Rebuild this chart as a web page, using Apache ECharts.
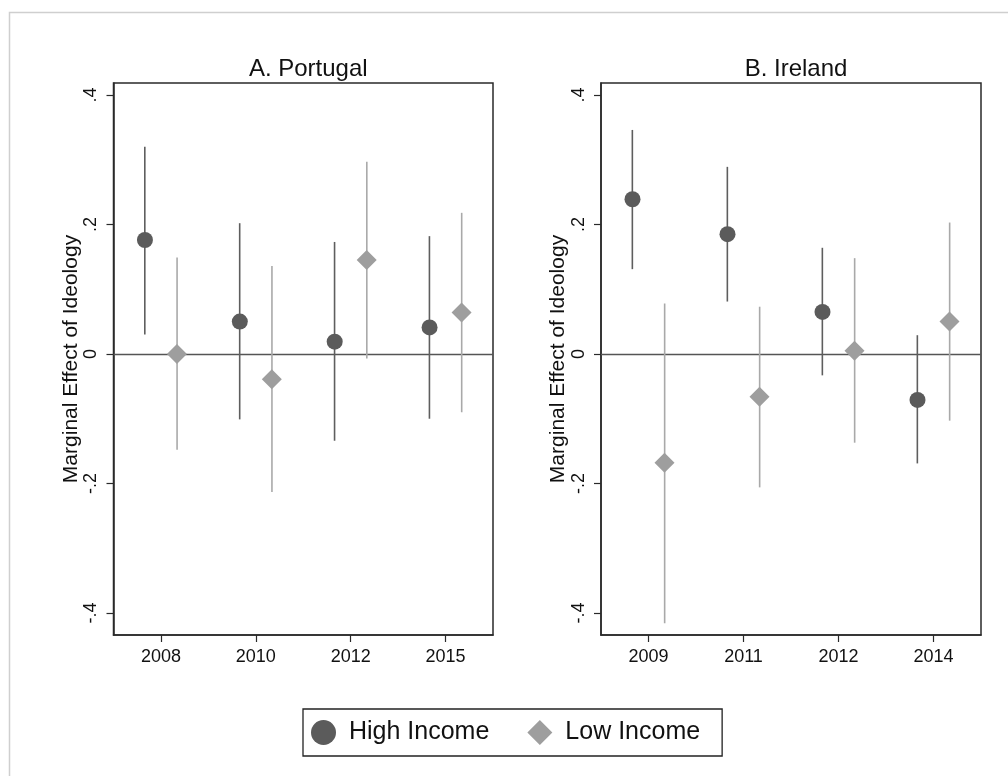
<!DOCTYPE html>
<html>
<head>
<meta charset="utf-8">
<script src="https://cdn.jsdelivr.net/npm/echarts@6/dist/echarts.min.js"></script>
<style>
  html, body { margin: 0; padding: 0; background: #fff; }
  #chart { width: 1008px; height: 776px; }
</style>
</head>
<body>
<div id="chart"></div>
<script>
// ---------- data ----------
const panelTitles = ['A. Portugal', 'B. Ireland'];
const portugalYears = ['2008', '2010', '2012', '2015'];
const irelandYears = ['2009', '2011', '2012', '2014'];

// Portugal: point estimates and 95% CI bounds
const portugalHigh = [0.176, 0.050, 0.019, 0.041];
const portugalHighLo = [0.030, -0.101, -0.134, -0.100];
const portugalHighHi = [0.320, 0.202, 0.173, 0.182];
const portugalLow = [0.000, -0.039, 0.145, 0.064];
const portugalLowLo = [-0.148, -0.213, -0.007, -0.090];
const portugalLowHi = [0.149, 0.136, 0.297, 0.218];

// Ireland
const irelandHigh = [0.239, 0.185, 0.065, -0.071];
const irelandHighLo = [0.131, 0.081, -0.033, -0.169];
const irelandHighHi = [0.346, 0.289, 0.164, 0.029];
const irelandLow = [-0.168, -0.066, 0.005, 0.050];
const irelandLowLo = [-0.416, -0.206, -0.137, -0.103];
const irelandLowHi = [0.078, 0.073, 0.148, 0.203];

const yTickValues = [-0.4, -0.2, 0, 0.2, 0.4];
const yTickLabels = ['-.4', '-.2', '0', '.2', '.4'];
const seriesNames = ['High Income', 'Low Income'];
const yAxisTitle = 'Marginal Effect of Ideology';

// ---------- styles ----------
const FONT = '"Liberation Sans", Arial, Helvetica, sans-serif';
const HIGH_COLOR = '#5b5b5b';
const HIGH_LINE = '#5e5e5e';
const LOW_COLOR = '#9e9e9e';
const LOW_LINE = '#a9a9a9';
const AXIS_COLOR = '#2a2a2a';
const OFFSET_FRAC = 0.17;

const grids = [
  { left: 113.5, top: 83, width: 379.5, height: 552 },
  { left: 601, top: 83, width: 380, height: 552 }
];

function yLabel(v) {
  for (let i = 0; i < yTickValues.length; i++) {
    if (Math.abs(yTickValues[i] - v) < 1e-9) return yTickLabels[i];
  }
  return '';
}

function makeErrorBars(lo, hi, dir) {
  return lo.map((l, i) => [i, l, hi[i], dir]);
}

function errorRender(params, api) {
  const idx = api.value(0);
  const dir = api.value(3);
  const band = api.size([1, 0])[0];
  const p1 = api.coord([idx, api.value(1)]);
  const p2 = api.coord([idx, api.value(2)]);
  const dx = dir * band * OFFSET_FRAC;
  return {
    type: 'line',
    shape: { x1: p1[0] + dx, y1: p1[1], x2: p2[0] + dx, y2: p2[1] },
    style: { stroke: api.visual('color'), lineWidth: 1.6 }
  };
}

const panels = [
  { years: portugalYears, high: portugalHigh, highLo: portugalHighLo, highHi: portugalHighHi,
    low: portugalLow, lowLo: portugalLowLo, lowHi: portugalLowHi },
  { years: irelandYears, high: irelandHigh, highLo: irelandHighLo, highHi: irelandHighHi,
    low: irelandLow, lowLo: irelandLowLo, lowHi: irelandLowHi }
];

const xAxes = [], yAxes = [], series = [], titles = [];
panels.forEach((p, k) => {
  const g = grids[k];
  titles.push({
    text: panelTitles[k],
    left: g.left + g.width / 2,
    textAlign: 'center',
    top: 52,
    textStyle: { fontFamily: FONT, fontSize: 24, fontWeight: 'normal', color: '#111' }
  });
  xAxes.push({
    type: 'category',
    gridIndex: k,
    data: p.years,
    boundaryGap: true,
    position: 'bottom',
    axisLine: { show: true, onZero: false, lineStyle: { color: AXIS_COLOR, width: 1.5 } },
    axisTick: { show: true, alignWithLabel: true, length: 7, lineStyle: { color: AXIS_COLOR, width: 1.2 } },
    axisLabel: { fontFamily: FONT, fontSize: 18, color: '#111', margin: 13 },
    splitLine: { show: false }
  });
  yAxes.push({
    type: 'value',
    gridIndex: k,
    min: -0.434,
    max: 0.4185,
    name: yAxisTitle,
    nameLocation: 'middle',
    nameRotate: 90,
    nameGap: 31,
    nameTextStyle: { fontFamily: FONT, fontSize: 21, color: '#111' },
    axisLine: { show: true, onZero: false, lineStyle: { color: AXIS_COLOR, width: 1.5 } },
    axisTick: { show: true, length: 7, customValues: yTickValues, lineStyle: { color: AXIS_COLOR, width: 1.2 } },
    axisLabel: {
      fontFamily: FONT, fontSize: 18, color: '#111', rotate: 90, margin: 13,
      customValues: yTickValues, formatter: yLabel
    },
    splitLine: { show: false }
  });
  // error bars
  series.push({
    type: 'custom',
    xAxisIndex: k, yAxisIndex: k,
    renderItem: errorRender,
    itemStyle: { color: HIGH_LINE },
    data: makeErrorBars(p.highLo, p.highHi, -1),
    z: 2, silent: true,
    markLine: {
      silent: true, symbol: 'none', z: 1,
      label: { show: false },
      lineStyle: { color: '#555', width: 1.3, type: 'solid' },
      data: [{ yAxis: 0 }]
    }
  });
  series.push({
    type: 'custom',
    xAxisIndex: k, yAxisIndex: k,
    renderItem: errorRender,
    itemStyle: { color: LOW_LINE },
    data: makeErrorBars(p.lowLo, p.lowHi, 1),
    z: 2, silent: true
  });
  // points
  series.push({
    name: seriesNames[0],
    type: 'scatter',
    xAxisIndex: k, yAxisIndex: k,
    symbol: 'circle',
    symbolSize: 16,
    symbolOffset: [-16, 0],
    itemStyle: { color: HIGH_COLOR, opacity: 1 },
    data: p.high,
    z: 4
  });
  series.push({
    name: seriesNames[1],
    type: 'scatter',
    xAxisIndex: k, yAxisIndex: k,
    symbol: 'diamond',
    symbolSize: 20,
    symbolOffset: [16, 0],
    itemStyle: { color: LOW_COLOR, opacity: 1 },
    data: p.low,
    z: 4
  });
});

const option = {
  backgroundColor: '#fff',
  animation: false,
  title: titles,
  grid: grids.map(g => Object.assign({ show: true, borderColor: AXIS_COLOR, borderWidth: 1.5, backgroundColor: 'transparent' }, g)),
  xAxis: xAxes,
  yAxis: yAxes,
  legend: {
    data: [{ name: seriesNames[0], icon: 'circle' }, { name: seriesNames[1], icon: 'diamond' }],
    left: 303,
    top: 709,
    orient: 'horizontal',
    itemWidth: 25,
    itemHeight: 25,
    itemGap: 38,
    padding: [11, 22, 11, 8],
    borderColor: '#222',
    borderWidth: 1.3,
    selectedMode: false,
    textStyle: { fontFamily: FONT, fontSize: 25, color: '#111', padding: [0, 0, 0, 8] }
  },
  graphic: [{
    type: 'polyline',
    silent: true,
    shape: { points: [[9.5, 776], [9.5, 12.5], [1008, 12.5]] },
    style: { stroke: '#cfcfcf', lineWidth: 1.5, fill: null }
  }],
  series: series
};

const chart = echarts.init(document.getElementById('chart'), null, { renderer: 'canvas' });
chart.setOption(option);
</script>
</body>
</html>
